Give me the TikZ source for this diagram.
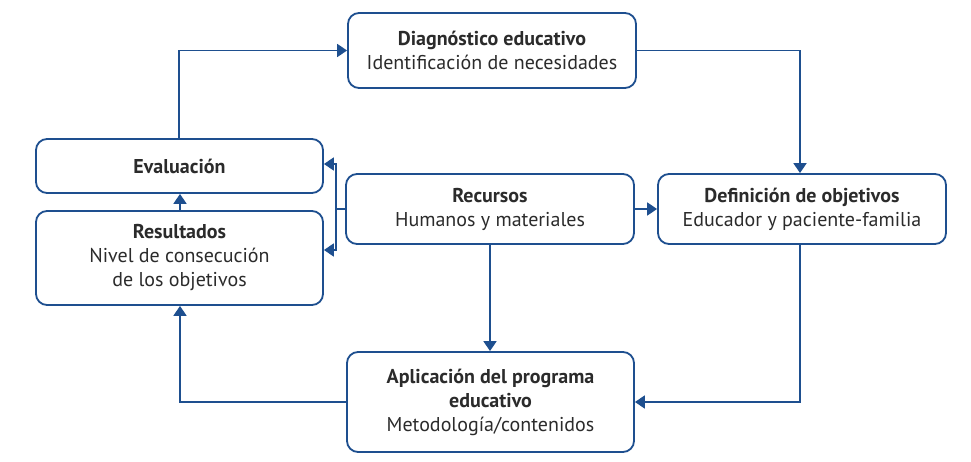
\documentclass[tikz,border=0pt]{standalone}
\usepackage{fontspec}
\setmainfont{PT Sans}
\usetikzlibrary{arrows.meta}
\definecolor{dblue}{HTML}{1E4F8F}
\definecolor{txt}{HTML}{2B2B2B}
\tikzset{
  box/.style={draw=dblue, line width=1.8pt, rounded corners=11pt, fill=white, align=center, text=txt, font=\fontsize{20}{24}\selectfont, inner sep=0pt},
  conn/.style={draw=dblue, line width=1.8pt, -{Triangle[length=10pt,width=13pt]}},
  plain/.style={draw=dblue, line width=1.8pt}
}
\begin{document}
\begin{tikzpicture}[x=1pt,y=-1pt]
\useasboundingbox (0,0) rectangle (971,462);
\node[box, minimum width=288pt, minimum height=75pt] (diag) at (492,50.5) {\textbf{Diagnóstico educativo}\\Identificación de necesidades};
\node[box, minimum width=287pt, minimum height=54pt] (eval) at (179.5,166) {\textbf{Evaluación}};
\node[box, minimum width=287pt, minimum height=94pt] (res) at (179.5,258) {\textbf{Resultados}\\Nivel de consecución\\de los objetivos};
\node[box, minimum width=288pt, minimum height=70pt] (rec) at (490,209) {\textbf{Recursos}\\Humanos y materiales};
\node[box, minimum width=288pt, minimum height=70pt] (def) at (802,209) {\textbf{Definición de objetivos}\\Educador y paciente-familia};
\node[box, minimum width=287pt, minimum height=100pt] (apl) at (490.5,402) {\textbf{Aplicación del programa}\\\textbf{educativo}\\Metodología/contenidos};
\coordinate (split) at (336,209);
\draw[conn] (eval.north -| 179,0) |- (diag.west);
\draw[conn] (diag.east) -| (800,0 |- def.north);
\draw[conn] (def.south -| 800,0) |- (apl.east);
\draw[conn] (apl.west) -| (180,0 |- res.south);
\draw[conn] (res.north -| 180,0) -- (eval.south -| 180,0);
\draw[plain] (rec.west) -- (split);
\draw[conn] (split) |- (eval.east |- 0,164);
\draw[conn] (split) |- (res.east |- 0,250);
\draw[conn] (rec.east) -- (def.west);
\draw[conn] (rec.south) -- (apl.north -| rec.south);
\end{tikzpicture}
\end{document}
